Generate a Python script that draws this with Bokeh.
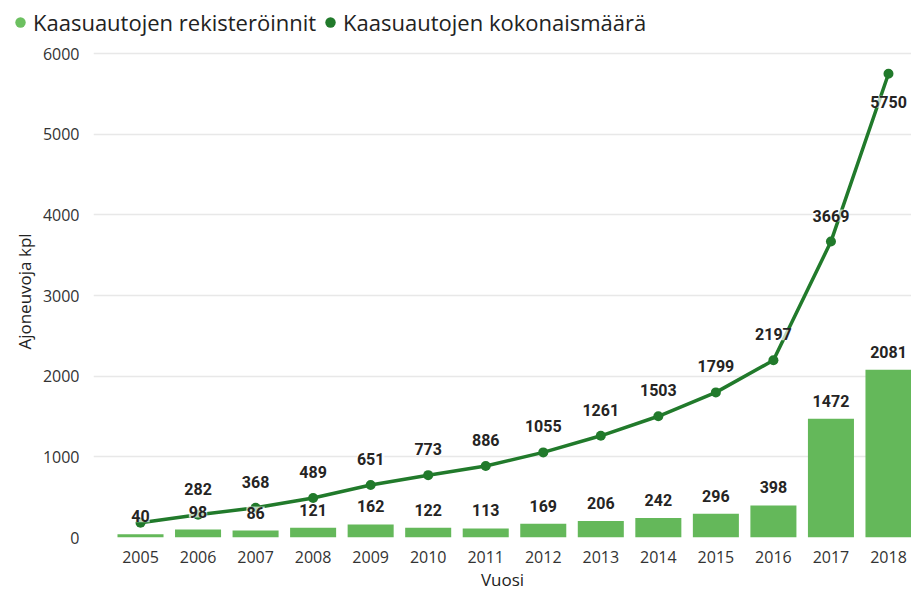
from bokeh.plotting import figure
from bokeh.layouts import column
from bokeh.models import (ColumnDataSource, Range1d, FixedTicker, NumeralTickFormatter,
                          Legend, LegendItem)
from bokeh.core.properties import value
from bokeh.embed import file_html
from bokeh.resources import INLINE

years = [2005, 2006, 2007, 2008, 2009, 2010, 2011, 2012, 2013, 2014, 2015, 2016, 2017, 2018]
registrations = [40, 98, 86, 121, 162, 122, 113, 169, 206, 242, 296, 398, 1472, 2081]
totals = [184, 282, 368, 489, 651, 773, 886, 1055, 1261, 1503, 1799, 2197, 3669, 5750]
y_ticks = [0, 1000, 2000, 3000, 4000, 5000, 6000]
series_names = ["Kaasuautojen rekisteröinnit", "Kaasuautojen kokonaismäärä"]

BAR = "#64b85a"
BAR_LEG = "#6cc060"
LINE = "#217a2b"
TXT = "#252423"
FONT = "Open Sans"

W, H = 911, 593

# ---------- legend strip ----------
leg_h = 38
lf = figure(width=W, height=leg_h, output_backend="svg", toolbar_location=None,
            x_range=Range1d(10, 11), y_range=Range1d(10, 11),
            min_border_left=7, min_border_right=0, min_border_top=7, min_border_bottom=0)
lf.frame_align = False
lf.axis.visible = False
lf.grid.visible = False
lf.outline_line_color = None
d1 = lf.scatter(x=[0], y=[0], size=10, fill_color=BAR_LEG, line_color=None)
d2 = lf.scatter(x=[0], y=[0], size=10, fill_color=LINE, line_color=None)
legend = Legend(items=[LegendItem(label=series_names[0], renderers=[d1]),
                       LegendItem(label=series_names[1], renderers=[d2])],
                orientation="horizontal", location="top_left",
                label_text_font=FONT, label_text_font_size="22px",
                label_text_color="#222222", glyph_width=26, glyph_height=26,
                label_height=26, label_standoff=0, spacing=1, padding=0, margin=0,
                border_line_color=None, background_fill_alpha=0)
lf.add_layout(legend, "center")

# ---------- main chart ----------
p = figure(width=W, height=H - leg_h, output_backend="svg", toolbar_location=None,
           x_range=Range1d(2004.183, 2018.4), y_range=Range1d(0, 6100),
           min_border_left=93, min_border_right=0, min_border_top=45 - leg_h,
           min_border_bottom=0)
p.frame_align = False
p.outline_line_color = None
p.background_fill_color = "white"
p.border_fill_color = "white"

p.xgrid.grid_line_color = None
p.ygrid.grid_line_color = "#e8e8e8"
p.ygrid.grid_line_width = 1.5

for ax in (p.xaxis[0], p.yaxis[0]):
    ax.axis_line_color = None
    ax.major_tick_line_color = None
    ax.minor_tick_line_color = None
    ax.major_label_text_font = FONT
    ax.major_label_text_font_size = "16px"
    ax.major_label_text_color = "#333333"
    ax.axis_label_text_font = FONT
    ax.axis_label_text_font_style = "normal"
    ax.axis_label_text_font_size = "17px"
    ax.axis_label_text_color = "#222222"

p.xaxis.ticker = FixedTicker(ticks=years)
p.xaxis.formatter = NumeralTickFormatter(format="0")
p.xaxis.major_label_standoff = 7
p.xaxis.axis_label = "Vuosi"
p.xaxis.axis_label_standoff = 2

p.yaxis.ticker = FixedTicker(ticks=y_ticks)
p.yaxis.formatter = NumeralTickFormatter(format="0")
p.yaxis.major_label_standoff = 8
p.yaxis.axis_label = "Ajoneuvoja kpl"
p.yaxis.axis_label_standoff = 4

src = ColumnDataSource(dict(x=years, reg=registrations, tot=totals,
                            reg_lbl=[str(v) for v in registrations]))
p.vbar(x="x", top="reg", width=0.8, source=src, fill_color=BAR, line_color=None)
p.line(x="x", y="tot", source=src, line_color=LINE, line_width=3.5)
p.scatter(x="x", y="tot", source=src, size=10, fill_color=LINE, line_color=None)

# data labels (semi-opaque white backing like the original)
lab_style = dict(text_font=value("Roboto"), text_font_style="bold", text_font_size="16px",
                 text_color=TXT, text_align="center", text_baseline="middle",
                 background_fill_color="white", background_fill_alpha=0.7)
p.text(x="x", y="reg", text="reg_lbl", source=src, y_offset=-18, **lab_style)

tot_src = ColumnDataSource(dict(x=years[1:-1], y=totals[1:-1],
                                lbl=[str(v) for v in totals[1:-1]]))
p.text(x="x", y="y", text="lbl", source=tot_src, y_offset=-26, **lab_style)
last_src = ColumnDataSource(dict(x=years[-1:], y=totals[-1:], lbl=[str(v) for v in totals[-1:]]))
p.text(x="x", y="y", text="lbl", source=last_src, y_offset=28, **lab_style)

layout = column(lf, p, spacing=0)
open("out.html", "w").write(file_html(layout, INLINE))
